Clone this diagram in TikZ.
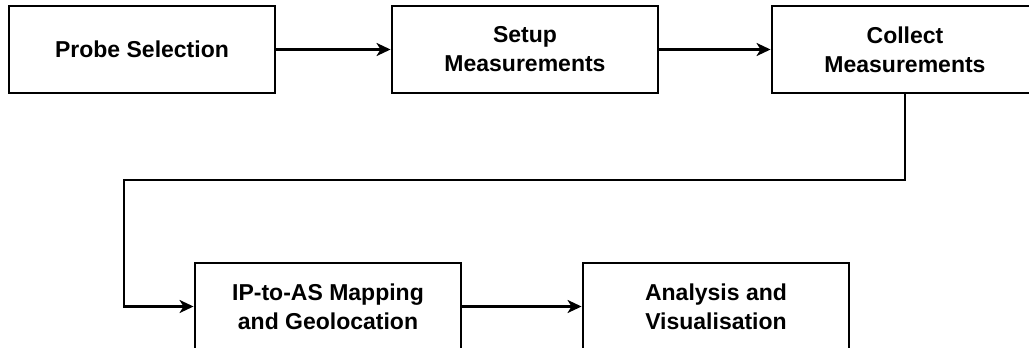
\documentclass[tikz,border=0pt]{standalone}
\usepackage{fontspec}
\setmainfont{Liberation Sans}
\usetikzlibrary{arrows.meta}
\begin{document}
\begin{tikzpicture}[x=1pt,y=-1pt,
  stage/.style={draw,line width=2.9pt,minimum width=266pt,minimum height=87pt,
    align=center,font=\fontsize{23}{29}\selectfont\bfseries},
  flow/.style={line width=2.9pt,-{Stealth[length=14pt,width=13pt,inset=4pt]}}]
\clip (0,0) rectangle (1029,348);
\node[stage] at (142,49.5) (probe) {Probe Selection};
\node[stage] at (525,49.5) (setup) {Setup\\Measurements};
\node[stage] at (905,49.5) (collect) {Collect\\Measurements};
\node[stage] at (328,306.5) (ipas) {IP-to-AS Mapping\\and Geolocation};
\node[stage] at (716,306.5) (analysis) {Analysis and\\Visualisation};
\coordinate (bend) at (124,180);
\draw[flow] (probe) -- (setup);
\draw[flow] (setup) -- (collect);
\draw[flow] (collect.south) |- (bend) |- (ipas.west);
\draw[flow] (ipas) -- (analysis);
\end{tikzpicture}
\end{document}
